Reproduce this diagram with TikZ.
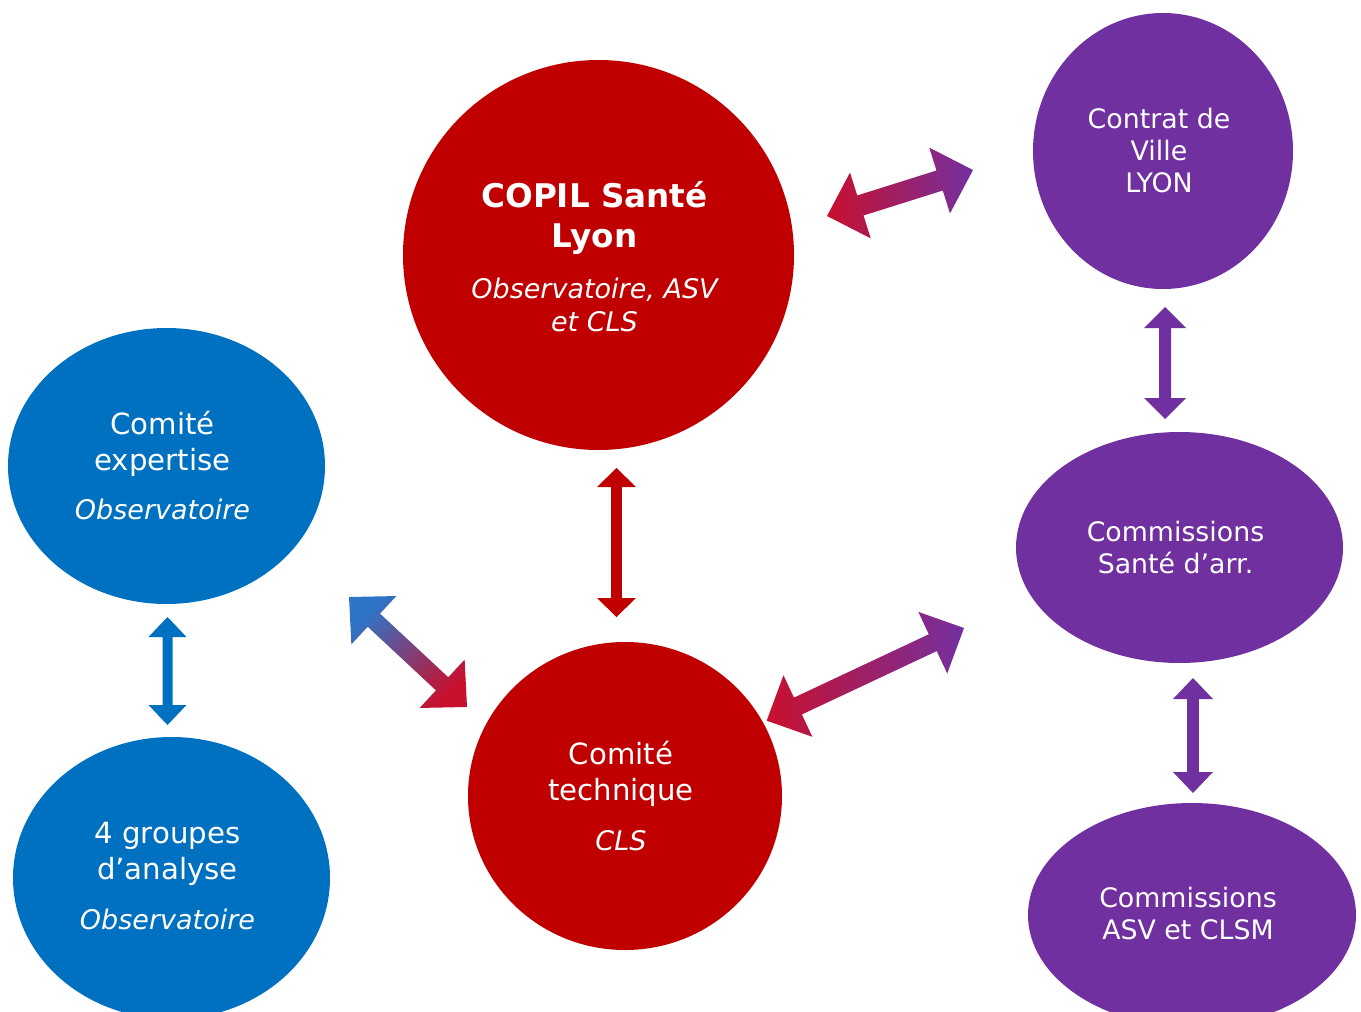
\documentclass[tikz,border=0pt]{standalone}
\usepackage{fontspec}
\setmainfont{DejaVu Sans}
\usetikzlibrary{shapes.geometric,calc}
\definecolor{cred}{HTML}{C00000}
\definecolor{cblue}{HTML}{0070C0}
\definecolor{cpurple}{HTML}{7030A0}
\definecolor{gred}{HTML}{C8102E}
\definecolor{gpurple}{HTML}{7330A0}
\definecolor{gblue}{HTML}{2E75C8}
\newcommand\blockarr[6]{%
\path[#1] (#2) -- ($(#2)!#6!(#3)!#5!90:(#3)$) -- ($(#2)!#6!(#3)!#4!90:(#3)$)
 -- ($(#3)!#6!(#2)!#4!-90:(#2)$) -- ($(#3)!#6!(#2)!#5!-90:(#2)$) -- (#3)
 -- ($(#3)!#6!(#2)!#5!90:(#2)$) -- ($(#3)!#6!(#2)!#4!90:(#2)$)
 -- ($(#2)!#6!(#3)!#4!-90:(#3)$) -- ($(#2)!#6!(#3)!#5!-90:(#3)$) -- cycle;}
\tikzset{
  blob/.style={ellipse, inner sep=0pt},
  txt/.style={text=white, align=center, inner sep=0pt, xshift=-2pt},
  mainfont/.style={font=\fontsize{14.6}{18}\selectfont},
  purpfont/.style={font=\fontsize{13.4}{16}\selectfont},
}
\newcommand\sub[1]{{\fontsize{13.5}{16}\selectfont\itshape #1}}
\begin{document}
\begin{tikzpicture}[x=0.5pt,y=-0.5pt]
\useasboundingbox (0,0) rectangle (1361,1012);
% shapes
\node[blob, fill=cred, minimum width=195.5pt, minimum height=195pt] (copil) at (598.5,255) {};
\node[blob, fill=cpurple, minimum width=130pt, minimum height=138pt] (ville) at (1163,151) {};
\node[blob, fill=cpurple, minimum width=163.5pt, minimum height=115.5pt] (sante) at (1179.5,547.5) {};
\node[blob, fill=cpurple, minimum width=164pt, minimum height=112pt] (asv) at (1192,915) {};
\node[blob, fill=cblue, minimum width=158.5pt, minimum height=138pt] (expertise) at (166.5,466) {};
\node[blob, fill=cblue, minimum width=158.5pt, minimum height=141pt] (groupes) at (171.5,878) {};
\node[blob, fill=cred, minimum width=157pt, minimum height=154pt] (technique) at (625,796) {};
% texts
\node[txt, font=\fontsize{16.3}{16.5}\selectfont, yshift=-1pt] (copilt) at (copil)
  {\bfseries COPIL Santé\\[3.5pt]\bfseries Lyon\\[9pt]\sub{Observatoire, ASV}\\\sub{et CLS}};
\node[txt, purpfont] (villet) at (ville) {Contrat de\\Ville\\LYON};
\node[txt, purpfont] (santet) at (sante) {Commissions\\Santé d’arr.};
\node[txt, purpfont, yshift=1pt] (asvt) at (asv) {Commissions\\ASV et CLSM};
\node[txt, mainfont] (expertiset) at (expertise) {Comité\\expertise\\[6.5pt]\sub{Observatoire}};
\node[txt, mainfont, yshift=1pt] (groupest) at (groupes) {4 groupes\\d’analyse\\[7pt]\sub{Observatoire}};
\node[txt, mainfont] (techniquet) at (technique) {Comité\\technique\\[7pt]\sub{CLS}};
% arrow end points
\coordinate (a1s) at (827,216);   \coordinate (a1e) at (973,170);
\coordinate (a2s) at (616.5,468); \coordinate (a2e) at (616.5,617);
\coordinate (a3s) at (349,597);   \coordinate (a3e) at (467,707);
\coordinate (a4s) at (766.7,720.7); \coordinate (a4e) at (964,628);
\coordinate (a5s) at (1165,307);  \coordinate (a5e) at (1165,419);
\coordinate (a6s) at (1193,678);  \coordinate (a6e) at (1193,793);
\coordinate (a7s) at (167.5,617); \coordinate (a7e) at (167.5,725);
% arrows
\blockarr{left color=gred, right color=gpurple}{a1s}{a1e}{5.25pt}{17.25pt}{17.5pt}
\blockarr{fill=cred}{a2s}{a2e}{2.7pt}{9.75pt}{9.5pt}
\blockarr{top color=gblue, bottom color=gred, shading angle=45}{a3s}{a3e}{4.5pt}{16.5pt}{17pt}
\blockarr{left color=gred, right color=gpurple}{a4s}{a4e}{4.65pt}{17pt}{17.25pt}
\blockarr{fill=cpurple}{a5s}{a5e}{3pt}{10.5pt}{10.5pt}
\blockarr{fill=cpurple}{a6s}{a6e}{2.9pt}{10pt}{10.5pt}
\blockarr{fill=cblue}{a7s}{a7e}{2.5pt}{9.5pt}{10pt}
\end{tikzpicture}
\end{document}
